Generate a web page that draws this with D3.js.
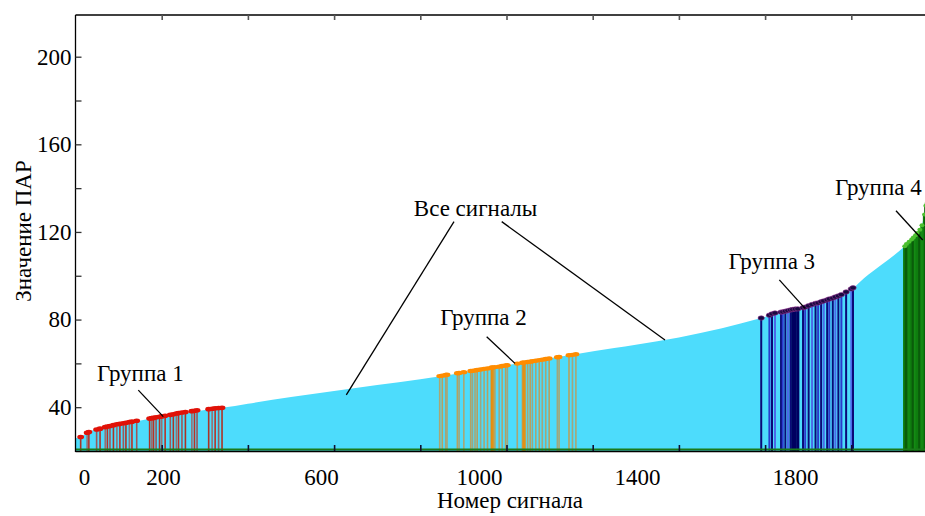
<!DOCTYPE html>
<html>
<head>
<meta charset="utf-8">
<script src="https://cdn.jsdelivr.net/npm/d3@7"></script>
<style>
  html, body { margin: 0; padding: 0; background: #fff; }
  svg { display: block; overflow: hidden; }
  svg text { font-family: 'Liberation Serif', 'Times New Roman', Times, 'DejaVu Serif', serif !important; fill: #000; }
</style>
</head>
<body>
<svg id="chart" width="925" height="516"></svg>
<script>
// ---------------- DATA ----------------
// Sorted PAR curve of all signals (signal number, PAR value)
const curveIdx = [0, 12, 30, 50, 80, 110, 140, 180, 220, 260, 300, 340, 400, 500, 600, 700, 800, 854, 900, 1000, 1100, 1160, 1250, 1300, 1400, 1500, 1591, 1650, 1700, 1750, 1800, 1830, 1870, 1900, 1924, 1950, 1964, 1973, 1985];
const curvePAR = [25.8, 26.4, 28.7, 29.9, 31.3, 32.5, 33.5, 34.9, 36.3, 37.6, 38.7, 39.7, 41.6, 44.6, 47.4, 50.1, 52.8, 54.2, 55.9, 59.1, 62.3, 64.2, 67.0, 68.5, 71.8, 76.0, 80.7, 84.0, 86.3, 89.3, 93.6, 99.0, 105.0, 109.5, 113.5, 118.5, 123.0, 132.0, 136.0];

// Group 1
const group1Idx = [12, 27, 31, 49, 57, 69, 74, 80, 88, 96, 103, 111, 117, 125, 131, 142, 172, 177, 181, 187, 195, 200, 208, 220, 227, 234, 239, 247, 255, 270, 276, 282, 309, 317, 324, 332, 340];
const group1PAR = [26.4, 28.3, 28.7, 29.8, 30.2, 30.9, 31.2, 31.4, 31.8, 32.2, 32.4, 32.7, 32.9, 33.2, 33.4, 33.8, 34.8, 35.0, 35.1, 35.4, 35.6, 35.8, 36.1, 36.5, 36.8, 37.1, 37.3, 37.6, 37.8, 38.2, 38.4, 38.6, 39.1, 39.3, 39.5, 39.6, 39.7];

// Group 2
const group2Idx = [845, 851, 859, 862, 886, 890, 901, 917, 921, 927, 932, 940, 948, 956, 965, 967, 973, 983, 990, 998, 1002, 1025, 1037, 1041, 1049, 1055, 1060, 1068, 1076, 1083, 1091, 1099, 1118, 1122, 1145, 1153, 1161];
const group2PAR = [54.2, 54.4, 54.7, 54.8, 55.5, 55.6, 56.0, 56.5, 56.6, 56.8, 57.0, 57.2, 57.5, 57.7, 58.0, 58.1, 58.3, 58.5, 58.8, 59.0, 59.2, 59.9, 60.3, 60.4, 60.6, 60.8, 61.0, 61.2, 61.5, 61.7, 62.0, 62.2, 62.8, 62.9, 63.7, 63.9, 64.2];

// Group 3
const group3Idx = [1591, 1610, 1616, 1623, 1637, 1641, 1647, 1653, 1659, 1664, 1670, 1676, 1688, 1693, 1701, 1709, 1717, 1723, 1730, 1736, 1744, 1749, 1757, 1763, 1770, 1777, 1788, 1800, 1804];
const group3PAR = [80.7, 82.0, 82.6, 83.0, 83.4, 83.5, 83.8, 84.1, 84.4, 84.6, 84.8, 84.9, 85.4, 85.7, 86.3, 86.9, 87.4, 87.6, 88.1, 88.5, 89.0, 89.4, 89.8, 90.3, 90.8, 91.4, 92.6, 94.0, 94.5];

// Group 4
const group4Idx = [1924, 1928, 1934, 1940, 1944, 1949, 1953, 1959, 1964, 1970, 1973, 1976];
const group4PAR = [113.5, 114.5, 115.5, 116.5, 117.5, 118.5, 119.5, 121.0, 123.0, 128.0, 132.0, 133.0];

// Axis ticks
const xTickLabels = [0, 200, 600, 1000, 1400, 1800];
const xTickMarks = [200, 400, 600, 800, 1000, 1200, 1400, 1600, 1800];
const yTickLabels = [40, 80, 120, 160, 200];
const yTickMarks = [40, 60, 80, 100, 120, 140, 160, 180, 200];

// Annotation texts
const labelAll = "Все сигналы";
const groupNames = ["Группа 1", "Группа 2", "Группа 3", "Группа 4"];
const xTitle = "Номер сигнала";
const yTitle = "Значение ПАР";

// ---------------- LAYOUT ----------------
const FONT = "'Liberation Serif', 'Times New Roman', Times, 'DejaVu Serif', serif";
const W = 925, H = 516;
const plot = { left: 75.5, top: 15, bottom: 451 };
const svg = d3.select("#chart").attr("font-family", FONT);

const x = d3.scaleLinear().domain([0, 2000]).range([plot.left, plot.left + 862]);
// the printed tick labels of the original figure sit on a slightly different scale than its tick marks
const xLabel = d3.scaleLinear().domain([0, 2000]).range([84, 84 + 790]);
const y = d3.scaleLinear().domain([20, 200]).range([plot.bottom, 56.7]);
const yMin = 20;

const zip = (a, b) => a.map((v, k) => ({ i: v, v: b[k] }));
const curve = zip(curveIdx, curvePAR);

// Cyan area of all signals
const area = d3.area()
  .x(d => x(d.i)).y0(y(yMin)).y1(d => y(d.v))
  .curve(d3.curveMonotoneX);
svg.append("path").datum(curve)
  .attr("d", area)
  .attr("fill", "#4ddcfc");

// Stem groups
const groups = [
  { data: zip(group1Idx, group1PAR), stems: ["#b02a1a", "#9a6a6a", "#c0281a", "#a05050"], width: 1.6, op: 0.95,
    dot: "#e01208", dotStroke: "none", rx: 3.4, ry: 2.3, strong: [] },
  { data: zip(group2Idx, group2PAR), stems: ["#b4a064", "#c09a50", "#a8a070"], width: 1.6, op: 0.9,
    dot: "#ff8c00", dotStroke: "none", rx: 3.4, ry: 2.2, strong: [967, 1041] },
  { data: zip(group3Idx, group3PAR), stems: ["#0a0a78", "#2a3ccc", "#0a0a78", "#4a6ae8"], width: 2, op: 1,
    dot: "#1a0a40", dotStroke: "#903090", rx: 3.2, ry: 2.2, strong: [1664, 1670, 1676] },
  { data: zip(group4Idx, group4PAR), stems: ["#0f7d0f", "#0a5c0a", "#148a14"], width: 3.4, op: 1,
    dot: "#4cc030", dotStroke: "none", rx: 2.5, ry: 2, strong: [] }
];

groups.forEach((g, gi) => {
  const gg = svg.append("g");
  gg.selectAll("line").data(g.data).join("line")
    .attr("x1", d => x(d.i)).attr("x2", d => x(d.i))
    .attr("y1", y(yMin)).attr("y2", d => y(d.v))
    .attr("stroke", (d, k) => g.strong.includes(d.i) ? (gi === 1 ? "#f08a00" : "#000060") : g.stems[k % g.stems.length])
    .attr("stroke-width", d => g.strong.includes(d.i) ? (gi === 1 ? 3.2 : 3) : g.width)
    .attr("stroke-opacity", g.op);
  gg.selectAll("ellipse").data(g.data).join("ellipse")
    .attr("cx", d => x(d.i)).attr("cy", d => y(d.v))
    .attr("rx", g.rx).attr("ry", g.ry)
    .attr("fill", g.dot)
    .attr("stroke", g.dotStroke).attr("stroke-width", 0.6);
});

// Bottom green baseline + black border
svg.append("line").attr("x1", plot.left).attr("x2", W).attr("y1", plot.bottom - 1.5).attr("y2", plot.bottom - 1.5)
  .attr("stroke", "#1a7a1a").attr("stroke-width", 2);
svg.append("line").attr("x1", plot.left).attr("x2", W).attr("y1", plot.bottom + 0.5).attr("y2", plot.bottom + 0.5)
  .attr("stroke", "#000").attr("stroke-width", 1.5);
// Top & left borders
svg.append("line").attr("x1", plot.left).attr("x2", W).attr("y1", plot.top).attr("y2", plot.top)
  .attr("stroke", "#000").attr("stroke-width", 1.3);
svg.append("line").attr("x1", plot.left).attr("x2", plot.left).attr("y1", plot.top).attr("y2", plot.bottom + 1)
  .attr("stroke", "#000").attr("stroke-width", 1.3);

// Tick marks (inward)
const axB = d3.axisTop(x).tickValues(xTickMarks).tickSize(6).tickFormat("");
const gB = svg.append("g").attr("transform", `translate(0,${plot.bottom})`).call(axB);
gB.select(".domain").remove();
gB.selectAll("line").attr("stroke", "#101030").attr("stroke-width", 1.6);

const axT = d3.axisBottom(x).tickValues(xTickMarks).tickSize(5).tickFormat("");
const gT = svg.append("g").attr("transform", `translate(0,${plot.top})`).call(axT);
gT.select(".domain").remove();
gT.selectAll("line").attr("stroke", "#555").attr("stroke-width", 1.6);

const axL = d3.axisRight(y).tickValues(yTickMarks).tickSize(6).tickFormat("");
const gL = svg.append("g").attr("transform", `translate(${plot.left},0)`).call(axL);
gL.select(".domain").remove();
gL.selectAll("line").attr("stroke", "#333").attr("stroke-width", 1.3);

// Tick labels
const axXL = d3.axisBottom(xLabel).tickValues(xTickLabels).tickSize(0).tickPadding(0).tickFormat(d3.format("d"));
const gXL = svg.append("g").attr("transform", `translate(0,${plot.bottom})`).call(axXL);
gXL.attr("font-family", FONT);
gXL.select(".domain").remove();
gXL.selectAll("text").attr("font-size", 23).attr("dy", null).attr("y", 34)
  .style("font-family", FONT).attr("fill", "#000");

const axYL = d3.axisLeft(y).tickValues(yTickLabels).tickSize(0).tickPadding(4).tickFormat(d3.format("d"));
const gYL = svg.append("g").attr("transform", `translate(${plot.left},0)`).call(axYL);
gYL.attr("font-family", FONT);
gYL.select(".domain").remove();
gYL.selectAll("text").attr("font-size", 23).style("font-family", FONT).attr("fill", "#000");

// Axis titles
svg.append("text").attr("x", 510).attr("y", 508).attr("text-anchor", "middle")
  .attr("font-size", 23).style("font-family", FONT).text(xTitle);
svg.append("text").attr("transform", "translate(31,231) rotate(-90)").attr("text-anchor", "middle")
  .attr("font-size", 23).style("font-family", FONT).text(yTitle);

// Annotations (in data coordinates)
const notes = [
  { text: groupNames[0], at: [50, 52.0], anchor: "start", lines: [[[145.7, 47.8], [203.7, 35.7]]] },
  { text: groupNames[1], at: [846, 77.5], anchor: "start", lines: [[[954, 72.2], [1019.7, 60.0]]] },
  { text: labelAll, at: [785, 127.3], anchor: "start", lines: [[[878.2, 124.7], [628.3, 45.6]], [[988.9, 124.7], [1367.7, 70.7]]] },
  { text: groupNames[2], at: [1716, 103.1], anchor: "end", lines: [[[1633, 98.1], [1692.6, 85.1]]] },
  { text: groupNames[3], at: [1963.3, 136.9], anchor: "end", lines: [[[1903.7, 129.7], [1965.7, 116.3]]] }
];
notes.forEach(n => {
  n.lines.forEach(l => {
    svg.append("line")
      .attr("x1", x(l[0][0])).attr("y1", y(l[0][1]))
      .attr("x2", x(l[1][0])).attr("y2", y(l[1][1]))
      .attr("stroke", "#000").attr("stroke-width", 1.3);
  });
  svg.append("text").attr("x", x(n.at[0])).attr("y", y(n.at[1]))
    .attr("text-anchor", n.anchor).attr("font-size", 23).style("font-family", FONT).text(n.text);
});
</script>
</body>
</html>
